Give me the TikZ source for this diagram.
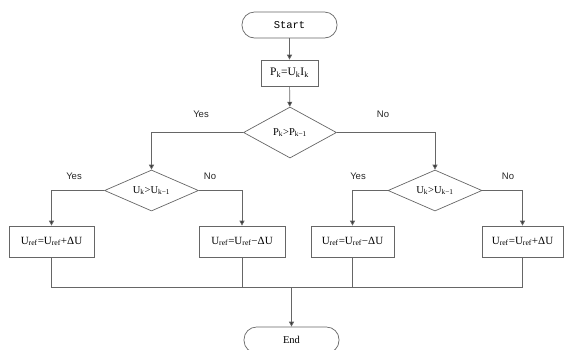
\documentclass[tikz,border=0pt]{standalone}
\usepackage{fontspec}
\setmainfont{Liberation Serif}
\setsansfont{Liberation Sans}
\setmonofont{Liberation Mono}
\usetikzlibrary{shapes.geometric,arrows.meta}
\newcommand{\sbs}[1]{\textsubscript{#1}}
\tikzset{
  ln/.style={draw=black!60, line width=0.7pt},
  arr/.style={ln, -{Triangle[length=5pt,width=5pt,fill=black!80]}},
  term/.style={ln, rectangle, rounded corners=12.5pt, minimum width=95pt, minimum height=26pt, inner sep=0pt, font=\fontsize{10.5}{12}\selectfont},
  procbox/.style={ln, rectangle, inner sep=0pt, minimum height=31pt, font=\fontsize{11}{13}\selectfont},
  decide/.style={ln, diamond, inner sep=0pt, aspect=2.3, font=\fontsize{10.5}{12}\selectfont},
  lbl/.style={font=\sffamily\fontsize{9.5}{11}\selectfont, text=black!85}
}
\begin{document}
\begin{tikzpicture}[x=1pt,y=-1pt]
\useasboundingbox (0,0) rectangle (564,349);
\begin{scope}
\clip (0,0) rectangle (564,349);
\node[term, font=\ttfamily\fontsize{10.5}{12}\selectfont] (start) at (289.5,25) {Start};
\node[procbox, minimum width=57pt, minimum height=26pt, font=\fontsize{11.5}{13}\selectfont] (pk) at (289.5,73) {P\sbs{k}=U\sbs{k}I\sbs{k}};
\node[decide, minimum width=93pt, minimum height=51pt] (d1) at (290,132.5) {P\sbs{k}>P\sbs{k−1}};
\node[decide, minimum width=94pt, minimum height=41pt] (d2) at (151.5,190.5) {U\sbs{k}>U\sbs{k−1}};
\node[decide, minimum width=94pt, minimum height=41pt] (d3) at (435,190.5) {U\sbs{k}>U\sbs{k−1}};
\node[procbox, minimum width=85pt] (b1) at (51.5,241.5) {U\sbs{ref}=U\sbs{ref}+ΔU};
\node[procbox, minimum width=86pt] (b2) at (242,241.5) {U\sbs{ref}=U\sbs{ref}−ΔU};
\node[procbox, minimum width=83pt] (b3) at (352.5,241.5) {U\sbs{ref}=U\sbs{ref}−ΔU};
\node[procbox, minimum width=81pt] (b4) at (522.5,241.5) {U\sbs{ref}=U\sbs{ref}+ΔU};
\node[term] (end) at (291.5,340) {End};
\coordinate (m) at (0,287);

\draw[arr] (start) -- (pk);
\draw[arr] (pk) -- (d1);
\draw[arr] (d1.west) -| (d2.north);
\draw[arr] (d1.east) -| (d3.north);
\draw[arr] (d2.west) -| (b1.north);
\draw[arr] (d2.east) -| (b2.north);
\draw[arr] (d3.west) -| (b3.north);
\draw[arr] (d3.east) -| (b4.north);
\draw[ln] (b1.south) |- (b4.south|-m) -- (b4.south);
\draw[ln] (b2.south) -- (b2.south|-m);
\draw[ln] (b3.south) -- (b3.south|-m);
\draw[arr] (end.north|-m) -- (end.north);

\node[lbl] (y1) at (201,114) {Yes};
\node[lbl] (n1) at (383,114) {No};
\node[lbl] (y2) at (74,176) {Yes};
\node[lbl] (n2) at (210,176) {No};
\node[lbl] (y3) at (358,176) {Yes};
\node[lbl] (n3) at (508,176) {No};
\end{scope}
\end{tikzpicture}
\end{document}
